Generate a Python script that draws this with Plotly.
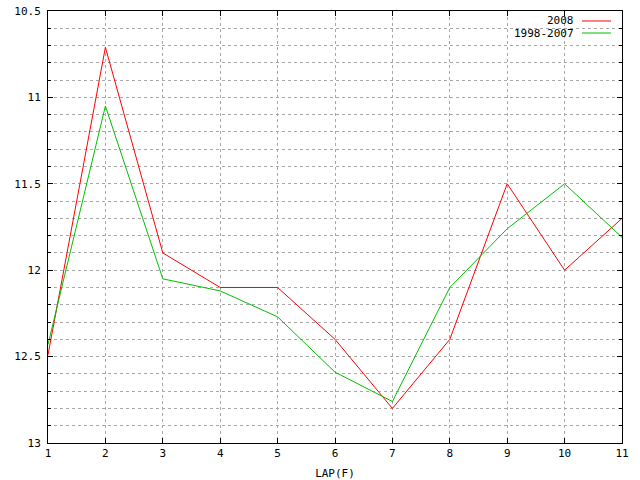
import plotly.graph_objects as go

laps = [1, 2, 3, 4, 5, 6, 7, 8, 9, 10, 11]
series_2008 = [12.49, 10.71, 11.90, 12.10, 12.10, 12.40, 12.80, 12.40, 11.50, 12.00, 11.70]
series_avg = [12.43, 11.05, 12.05, 12.12, 12.27, 12.59, 12.76, 12.10, 11.76, 11.50, 11.81]
names = ["2008", "1998-2007"]
colors = ["#ff0000", "#00c000"]
y_ticks = [10.5, 11, 11.5, 12, 12.5, 13]
y_labels = ["10.5", "11", "11.5", "12", "12.5", "13"]

FONT = "DejaVu Sans Mono"

fig = go.Figure()
for name, vals, col in zip(names, [series_2008, series_avg], colors):
    fig.add_trace(go.Scatter(x=laps, y=vals, mode="lines", name=name,
                             line=dict(color=col, width=1), showlegend=False))

# legend drawn gnuplot-style (text then sample line)
for i, (name, col) in enumerate(zip(names, colors)):
    ypos = 1 - (10 + 12 * i) / 432
    fig.add_annotation(x=(576 - 48) / 574, y=ypos, xref="paper", yref="paper",
                       text=name, showarrow=False, xanchor="right", yanchor="middle",
                       font=dict(family=FONT, size=11, color="black"))
    fig.add_shape(type="line", xref="paper", yref="paper",
                  x0=(582 - 48) / 574, x1=(611 - 48) / 574, y0=ypos, y1=ypos,
                  line=dict(color=col, width=1))

axis_common = dict(showline=True, linecolor="black", linewidth=1, mirror="ticks",
                   ticks="inside", tickcolor="black", ticklen=5, automargin=False,
                   gridcolor="#a8a8a8", griddash="dot", gridwidth=1,
                   zeroline=False, tickfont=dict(family=FONT, size=11, color="black"))

fig.update_xaxes(range=[1, 11], tickvals=laps, ticktext=[str(v) for v in laps],
                 title=dict(text="LAP(F)", font=dict(family=FONT, size=11, color="black"), standoff=11),
                 **axis_common)
fig.update_yaxes(range=[13, 10.5], tickvals=y_ticks, ticktext=y_labels,
                 minor=dict(dtick=0.1, tick0=10.5, ticks="inside", ticklen=3, tickcolor="black",
                            showgrid=True, gridcolor="#a8a8a8", griddash="dot", gridwidth=1),
                 ticklabelstandoff=4,
                 **axis_common)

fig.update_layout(width=640, height=480, margin=dict(l=48, r=18, t=11, b=37, autoexpand=False),
                  plot_bgcolor="white", paper_bgcolor="white",
                  font=dict(family=FONT, size=11, color="black"))

fig.write_html("out.html", config={"displayModeBar": False, "staticPlot": True},
               post_script="document.body.style.margin='0px';document.body.style.overflow='hidden';")
